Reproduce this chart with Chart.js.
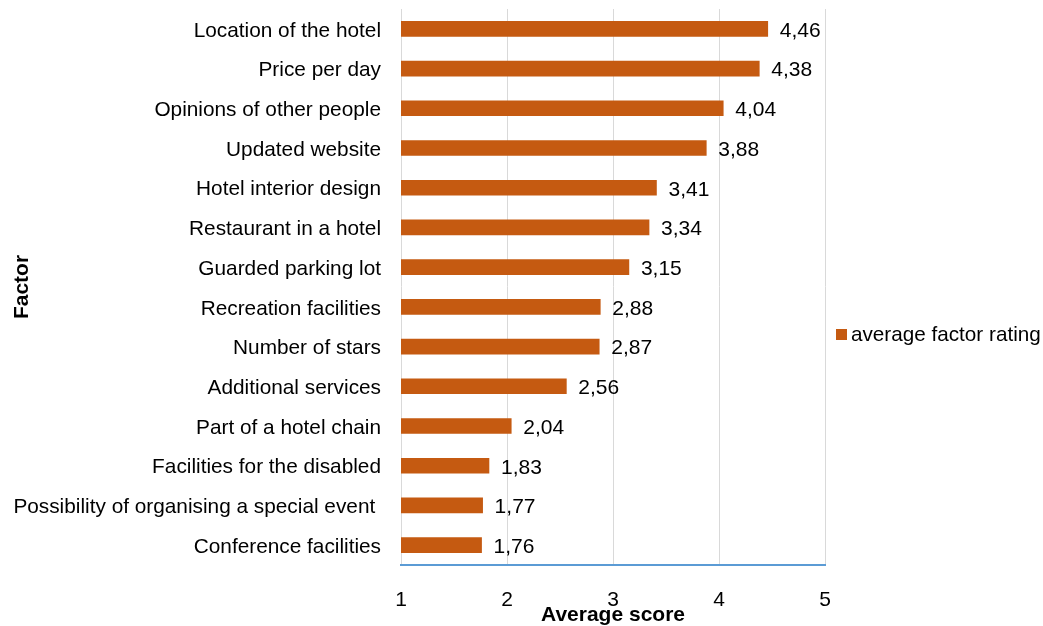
<!DOCTYPE html>
<html>
<head>
<meta charset="utf-8">
<script src="https://cdn.jsdelivr.net/npm/chart.js@4.4.1/dist/chart.umd.min.js"></script>
<style>
  html, body { margin: 0; padding: 0; background: #fff; }
  #wrap { width: 1043px; height: 626px; }
</style>
</head>
<body>
<div id="wrap"><canvas id="factorChart" width="1043" height="626"></canvas></div>
<script>
const factors = [
  "Location of the hotel",
  "Price per day",
  "Opinions of other people",
  "Updated website",
  "Hotel interior design",
  "Restaurant in a hotel",
  "Guarded parking lot",
  "Recreation facilities",
  "Number of stars",
  "Additional services",
  "Part of a hotel chain",
  "Facilities for the disabled",
  "Possibility of organising a special event ",
  "Conference facilities",
];
const ratings = [4.46, 4.38, 4.04, 3.88, 3.41, 3.34, 3.15, 2.88, 2.87, 2.56, 2.04, 1.83, 1.77, 1.76];
const scoreTicks = [1, 2, 3, 4, 5];

const FONT = "'Liberation Sans', Arial, sans-serif";
const barColor = "#c55a11";

// value labels next to each bar, decimal comma
const valueLabels = {
  id: "valueLabels",
  afterDatasetsDraw(chart) {
    const ctx = chart.ctx;
    const meta = chart.getDatasetMeta(0);
    ctx.save();
    ctx.font = "21px " + FONT;
    ctx.fillStyle = "#000";
    ctx.textAlign = "left";
    ctx.textBaseline = "middle";
    meta.data.forEach((bar, i) => {
      const txt = ratings[i].toFixed(2).replace(".", ",");
      ctx.fillText(txt, bar.x + 12, bar.y + 2);
    });
    ctx.restore();
  },
};

// legend on the right
const sideLegend = {
  id: "sideLegend",
  afterDraw(chart) {
    const ctx = chart.ctx;
    const ds = chart.data.datasets[0];
    ctx.save();
    ctx.fillStyle = ds.backgroundColor;
    ctx.fillRect(836, 329, 11, 11);
    ctx.font = "20.7px " + FONT;
    ctx.fillStyle = "#000";
    ctx.textBaseline = "middle";
    ctx.fillText(ds.label, 851, 335);
    ctx.restore();
  },
};

new Chart(document.getElementById("factorChart").getContext("2d"), {
  type: "bar",
  data: {
    labels: factors,
    datasets: [
      {
        label: "average factor rating",
        data: ratings,
        backgroundColor: barColor,
        barThickness: 15,
      },
    ],
  },
  options: {
    indexAxis: "y",
    responsive: false,
    animation: false,
    layout: { padding: { top: 9, right: 218, left: 0, bottom: 0 } },
    scales: {
      x: {
        min: 1,
        max: 5,
        afterBuildTicks: (scale) => {
          scale.ticks = scoreTicks.map((v) => ({ value: v }));
        },
        afterFit: (scale) => {
          scale.height = 61;
        },
        grid: { color: "#d9d9d9", drawTicks: false },
        border: { color: "#5b9bd5", width: 2 },
        ticks: { color: "#000", font: { family: FONT, size: 21 }, padding: 23 },
        title: {
          display: true,
          text: "Average score",
          color: "#000",
          font: { family: FONT, size: 21, weight: "bold", lineHeight: 1 },
          padding: { top: 0, bottom: 0 },
        },
      },
      y: {
        afterFit: (scale) => {
          scale.width = 401;
          scale.paddingTop = 0;
          scale.paddingBottom = 0;
        },
        grid: { display: false, drawTicks: false },
        border: { display: false },
        ticks: { color: "#000", font: { family: FONT, size: 20.8 }, padding: 20, labelOffset: 2 },
        title: {
          display: true,
          text: "Factor",
          color: "#000",
          font: { family: FONT, size: 21, weight: "bold" },
          padding: { top: 10, bottom: 0 },
        },
      },
    },
    plugins: {
      legend: { display: false },
      tooltip: { enabled: false },
    },
  },
  plugins: [valueLabels, sideLegend],
});
</script>
</body>
</html>
